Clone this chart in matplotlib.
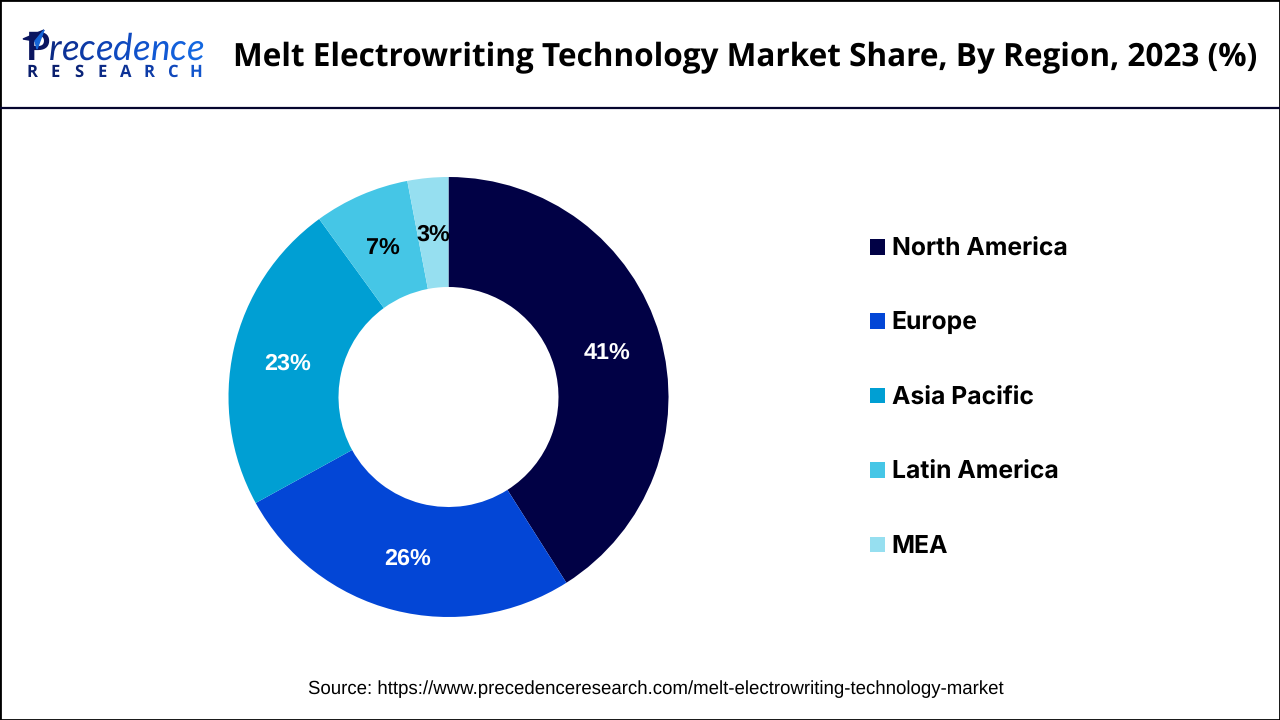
import matplotlib
matplotlib.use("Agg")
import matplotlib.pyplot as plt
from matplotlib.patches import Rectangle, Polygon

plt.rcParams['text.hinting'] = 'no_hinting'
plt.rcParams['text.hinting_factor'] = 8

regions = ['North America', 'Europe', 'Asia Pacific', 'Latin America', 'MEA']
shares = [41, 26, 23, 7, 3]
colors = ['#010145', '#0346D6', '#009FD3', '#45C6E6', '#96DFF0']
label_colors = ['white', 'white', 'white', 'black', 'black']

title = 'Melt Electrowriting Technology Market Share, By Region, 2023 (%)'
source = 'Source: https://www.precedenceresearch.com/melt-electrowriting-technology-market'
logo_top = 'recedence'
logo_bottom = 'RESEARCH'
logo_top_colors = ['#0B2A86', '#0C3298', '#0D3AA6', '#0E42B4', '#0F4AC0', '#1052CB', '#1159D4', '#1260DB', '#1367E0']
logo_bottom_colors = ['#0A1F6E', '#0A1F6E', '#0B2478', '#0C2A86', '#0D3296', '#0E3CA8', '#1048BC', '#1255CC']

fig = plt.figure(figsize=(12.8, 7.2), dpi=100)

# donut
ax = fig.add_axes([228.5 / 1280, 103 / 720, 440 / 1280, 440 / 720])
wedges, _, pct = ax.pie(shares, colors=colors, startangle=90, counterclock=False, radius=1,
                        autopct='%d%%', pctdistance=0.75,
                        wedgeprops={'width': 0.5, 'linewidth': 0},
                        textprops={'family': 'Liberation Sans', 'fontweight': 'bold', 'fontsize': 16.8})
for t, c in zip(pct, label_colors):
    t.set_color(c)
    t.set_va('center_baseline')
ax.set_xlim(-1, 1)
ax.set_ylim(-1, 1)

# legend
fig.legend(wedges, regions, loc='upper left', bbox_to_anchor=(860 / 1280, 1 - 227.5 / 720),
           frameon=False, prop={'family': 'Inter', 'weight': 'bold', 'size': 17.8},
           handlelength=0.6, handleheight=0.6, handletextpad=0.28, labelspacing=2.08,
           borderpad=0.4, borderaxespad=0)

# header + frame
fig.add_artist(plt.Line2D([0, 1], [1 - 107.5 / 720] * 2, color='#05052E', lw=1.6))
fig.add_artist(Rectangle((0, 0), 1, 1, transform=fig.transFigure, fill=False, ec='black', lw=2))
fig.text(745 / 1280, 1 - 58 / 720, title, family='Open Sans', fontweight='bold', fontsize=22.7,
         color='black', ha='center', va='center')
fig.text(656 / 1280, 1 - 689 / 720, source, family='Liberation Sans', fontsize=13.4,
         color='black', ha='center', va='center')

# logo
fig.text(26 / 1280, 1 - 60 / 720, 'P', family='Lato', fontweight='bold', fontsize=28,
         color='#0A1560', ha='left', va='baseline')
x = 49
for ch, c in zip(logo_top, logo_top_colors):
    t = fig.text(x / 1280, 1 - 60 / 720, ch, family='Lato', fontsize=26.5, style='italic',
                 color=c, ha='left', va='baseline')
    x += t.get_window_extent(fig.canvas.get_renderer()).width
for i, (ch, c) in enumerate(zip(logo_bottom, logo_bottom_colors)):
    fig.text((32 + i * 23.4) / 1280, 1 - 77 / 720, ch, family='Open Sans', fontweight='bold', fontsize=12,
             color=c, ha='center', va='baseline')
fig.add_artist(Polygon([(44 / 1280, 1 - 30 / 720), (23 / 1280, 1 - 39 / 720), (35 / 1280, 1 - 41 / 720)],
                       transform=fig.transFigure, color='#0A1560', zorder=5))
fig.add_artist(Polygon([(44 / 1280, 1 - 30 / 720), (35 / 1280, 1 - 41 / 720), (37 / 1280, 1 - 49 / 720)],
                       transform=fig.transFigure, color='#1565D8', zorder=5))

fig.savefig('out.png', dpi=100)
